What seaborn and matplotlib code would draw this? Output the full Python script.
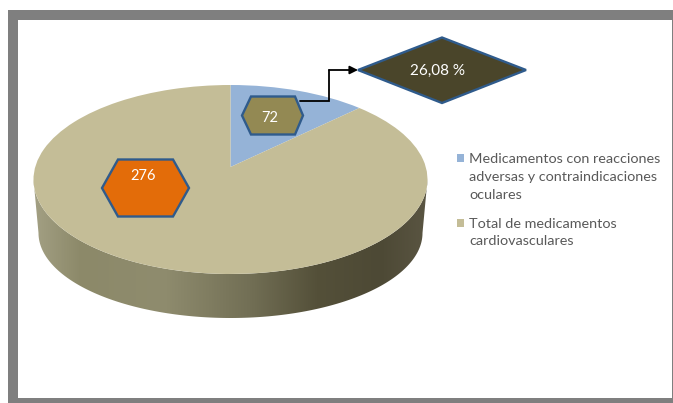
import numpy as np
import matplotlib
matplotlib.use("Agg")
import matplotlib.pyplot as plt
import seaborn as sns
from matplotlib.colors import LinearSegmentedColormap
from matplotlib.patches import Polygon, Rectangle
from matplotlib.transforms import Transform

# what the labels say
count_labels = ["72", "276"]
percent_label = "26,08 %"
legend_labels = [
    "Medicamentos con reacciones\nadversas y contraindicaciones\noculares",
    "Total de medicamentos\ncardiovasculares",
]
slice_shares = [12.8, 87.2]
slice_colors = ["#95b3d7", "#c4bd97"]

sns.set_theme(style="white")
plt.rcParams["font.family"] = ["Lato", "DejaVu Sans"]

# pie tilt: the centre of the disc sits above the centre of the ellipse
CX, CY, RX, RY = 230.5, 179.5, 197, 94.5
TIP = CY - 167
TILT = TIP / RY


class Tilted(Transform):
    input_dims = output_dims = 2

    def transform_non_affine(self, xy):
        x, y = xy[:, 0], xy[:, 1]
        w = 1 + TILT * y
        px = CX + RX * np.sqrt(1 - TILT ** 2) * x / w
        py = CY - (RY * y + TIP) / w
        return np.column_stack([px, py])


fig = plt.figure(figsize=(6.73, 4.03), dpi=100)
ax = fig.add_axes([0, 0, 1, 1])

# grey frame
ax.add_patch(Rectangle((8, 10), 670, 400, fc="#7f7f7f", ec="none", zorder=0))
ax.add_patch(Rectangle((18, 20), 653.5, 378, fc="white", ec="none", zorder=0.5))

wedges, _ = ax.pie(slice_shares, colors=slice_colors, startangle=90, counterclock=False,
                   wedgeprops=dict(linewidth=0))
for w in wedges:
    w.set_transform(Tilted() + ax.transData)
    w.set_zorder(3)

# side of the disc
t = np.linspace(np.pi, 0, 200)
upper = np.column_stack([CX + RX * np.cos(t), CY + RY * np.sin(t)])
lower = np.column_stack([CX + 192 * np.cos(t[::-1]), 233 + 85 * np.sin(t[::-1])])
side = Polygon(np.vstack([upper, lower]), closed=True, transform=ax.transData, fc="none", ec="none")
ax.add_patch(side)
side_cmap = LinearSegmentedColormap.from_list(
    "side",
    [(0, "#a3a084"), (0.12, "#8c8969"), (0.33, "#8f8c6e"), (0.55, "#726f55"),
     (0.72, "#545039"), (0.88, "#4d4935"), (1, "#5a5542")],
)
img = ax.imshow(np.linspace(0, 1, 256)[None, :], cmap=side_cmap, extent=(33, 428, 320, 170),
                aspect="auto", zorder=2)
img.set_clip_path(side)

# hexagon and diamond call-outs
EDGE = "#2f5b8c"
ax.add_patch(Polygon([(242, 115.5), (251, 96.5), (295, 96.5), (303, 115.5), (295, 134.5), (251, 134.5)],
                     fc="#938953", ec=EDGE, lw=1.7, zorder=4))
ax.add_patch(Polygon([(102, 188), (118, 159.5), (173, 159.5), (189, 188), (173, 216.5), (118, 216.5)],
                     fc="#e36c09", ec=EDGE, lw=1.7, zorder=4))
ax.add_patch(Polygon([(358, 70), (442, 37.5), (526, 70), (442, 103)],
                     fc="#4a452a", ec=EDGE, lw=1.7, zorder=4))
ax.text(270, 118, count_labels[0], color="white", fontsize=10.5, ha="center", va="center", zorder=5)
ax.text(143, 176, count_labels[1], color="white", fontsize=10.5, ha="center", va="center", zorder=5)
ax.text(437, 71, percent_label, color="white", fontsize=11, ha="center", va="center", zorder=5)

# elbow connector
ax.plot([300, 329, 329], [101, 101, 70], color="black", lw=1.3, zorder=5, solid_joinstyle="miter")
ax.annotate("", xy=(358, 70), xytext=(329, 70), zorder=5,
            arrowprops=dict(arrowstyle="-|>", color="black", lw=1.3, shrinkA=0, shrinkB=0))

# legend, squares sit on the first line of each entry
for lab, col, sq_y, txt_y in zip(legend_labels, slice_colors, [153.5, 219], [177, 232.5]):
    ax.add_patch(Rectangle((457, sq_y), 7, 8, fc=col, ec="none", zorder=4))
    ax.text(469, txt_y, lab, color="#595959", fontsize=10.4, linespacing=1.57,
            ha="left", va="center", zorder=5)

ax.set_aspect("auto")
ax.set_xlim(0, 673)
ax.set_ylim(403, 0)
ax.axis("off")

fig.savefig("out.png", dpi=100)
